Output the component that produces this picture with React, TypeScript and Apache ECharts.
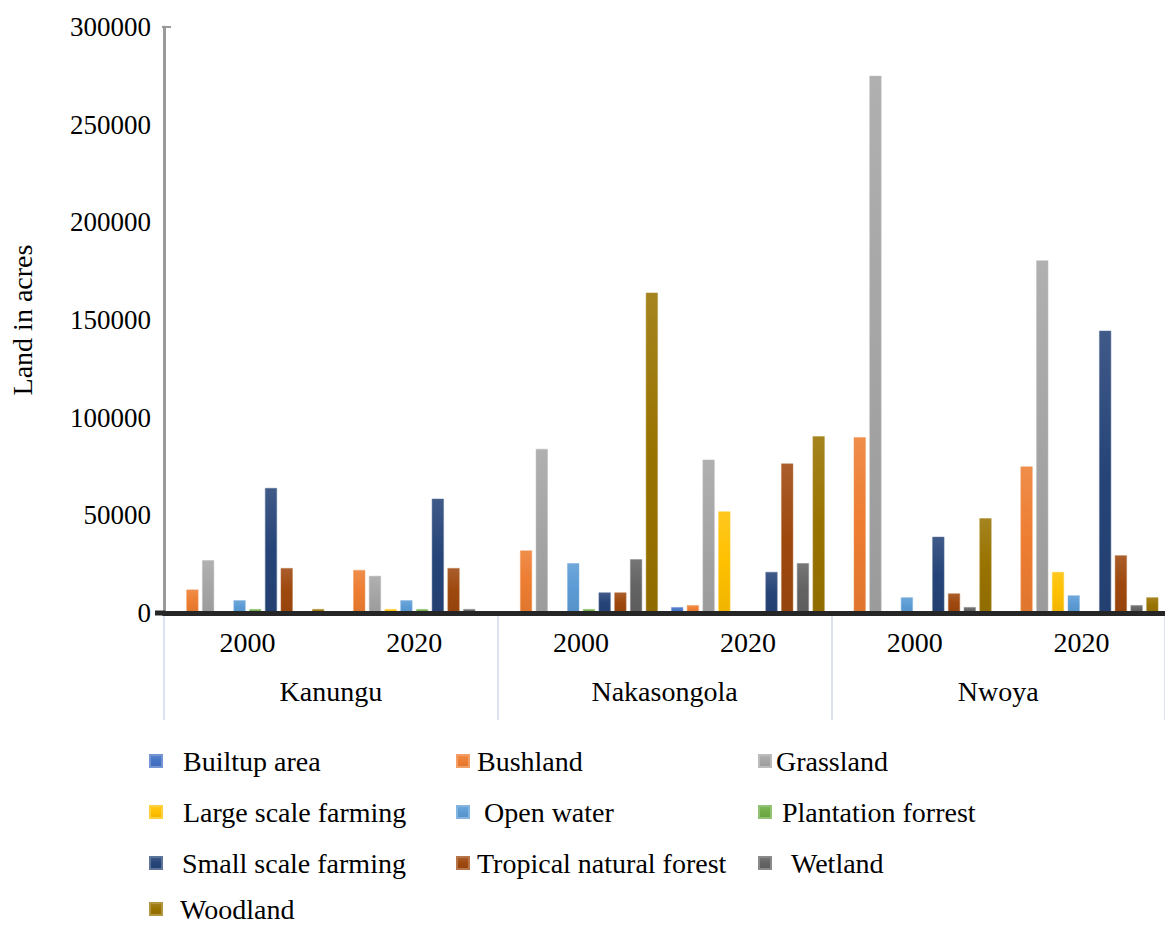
import React, { useEffect, useRef } from "react";
import * as echarts from "echarts";

const districts = ["Kanungu", "Nakasongola", "Nwoya"];
const years = ["2000", "2020"];
const seriesNames = [
  "Builtup area",
  "Bushland",
  "Grassland",
  "Large scale farming",
  "Open water",
  "Plantation forrest",
  "Small scale farming",
  "Tropical natural forest",
  "Wetland",
  "Woodland",
];
// order: Kanungu 2000, Kanungu 2020, Nakasongola 2000, Nakasongola 2020, Nwoya 2000, Nwoya 2020
const builtup = [0, 0, 0, 3000, 0, 0];
const bushland = [12000, 22000, 32000, 4000, 90000, 75000];
const grassland = [27000, 19000, 84000, 78500, 275000, 180500];
const largeScale = [0, 2000, 0, 52000, 0, 21000];
const openWater = [6500, 6500, 25500, 0, 8000, 9000];
const plantation = [2000, 2000, 2000, 0, 0, 0];
const smallScale = [64000, 58500, 10500, 21000, 39000, 144500];
const tropical = [23000, 23000, 10500, 76500, 10000, 29500];
const wetland = [0, 2000, 27500, 25500, 3000, 4000];
const woodland = [2000, 0, 164000, 90500, 48500, 8000];
const yTicks = [0, 50000, 100000, 150000, 200000, 250000, 300000];

const seriesValues = [builtup, bushland, grassland, largeScale, openWater, plantation, smallScale, tropical, wetland, woodland];
const colors = ["#4472C4", "#ED7D31", "#A5A5A5", "#FFC000", "#5B9BD5", "#70AD47", "#264478", "#9E480E", "#636363", "#997300"];

const FONT = "Liberation Serif, Times New Roman, serif";

function shade(hex: string, amt: number) {
  const n = parseInt(hex.slice(1), 16);
  const r = (n >> 16) & 255, g = (n >> 8) & 255, b = n & 255;
  const f = (c: number) => Math.round(amt >= 0 ? c + (255 - c) * amt : c * (1 + amt));
  return `rgb(${f(r)},${f(g)},${f(b)})`;
}

// legend layout: [iconX, textX, rowCenterY]
const legendPos: [number, number, number][] = [
  [149, 182, 760],
  [456, 476, 760],
  [758, 775, 760],
  [149, 182, 811],
  [456, 483, 811],
  [758, 781, 811],
  [149, 181, 862],
  [456, 476, 862],
  [758, 790, 862],
  [149, 179, 908],
];

export default function App() {
  const ref = useRef<HTMLDivElement>(null);
  useEffect(() => {
    if (!ref.current) return;
    const chart = echarts.init(ref.current, undefined, { renderer: "svg" });
    const categories: string[] = [];
    districts.forEach((d) => years.forEach((y) => categories.push(d + "|" + y)));
    const ICON = 12;
    const legends = seriesNames.map((name, i) => {
      const [ix, tx, cy] = legendPos[i];
      return {
        data: [name],
        left: ix,
        top: cy - 13,
        padding: 0,
        icon: "rect",
        itemWidth: ICON,
        itemHeight: ICON,
        selectedMode: false,
        textStyle: {
          fontFamily: FONT,
          fontSize: 28,
          color: "#000",
          lineHeight: 26,
          padding: [0, 0, 0, Math.max(0, tx - (ix + ICON + 5))],
        },
      };
    });
    chart.setOption({
      animation: false,
      backgroundColor: "#fff",
      color: colors,
      textStyle: { fontFamily: FONT },
      legend: legends,
      grid: { left: 163, top: 27, right: -9, bottom: 925 - 613, containLabel: false },
      xAxis: [
        {
          type: "category",
          data: categories,
          z: 5,
          axisLine: { show: true, lineStyle: { color: "#262626", width: 5 } },
          axisTick: { show: false },
          axisLabel: {
            interval: 0,
            margin: 15,
            fontFamily: FONT,
            fontSize: 28,
            color: "#000",
            formatter: (v: string) => v.split("|")[1],
          },
          splitLine: { show: false },
        },
        {
          type: "category",
          data: districts,
          position: "bottom",
          axisLine: { show: false },
          axisTick: { show: true, length: 107, lineStyle: { color: "#dde3ee", width: 2 } },
          axisLabel: { interval: 0, margin: 64, fontFamily: FONT, fontSize: 28, color: "#000" },
          splitLine: { show: false },
        },
      ],
      yAxis: {
        type: "value",
        min: yTicks[0],
        max: yTicks[yTicks.length - 1],
        interval: yTicks[1] - yTicks[0],
        name: "Land in acres",
        nameLocation: "middle",
        nameRotate: 90,
        nameGap: 128,
        nameTextStyle: { fontFamily: FONT, fontSize: 28, color: "#000" },
        axisLine: { show: true, lineStyle: { color: "#9a9a9a", width: 3 } },
        axisTick: { show: false },
        splitLine: { show: false },
        axisLabel: {
          margin: 13,
          fontFamily: FONT,
          fontSize: 27,
          color: "#000",
          formatter: (v: number) => String(v),
        },
      },
      graphic: [
        { type: "line", shape: { x1: 155, y1: 613, x2: 165, y2: 613 }, style: { stroke: "#262626", lineWidth: 5 }, z: 10 },
        { type: "line", shape: { x1: 162, y1: 27, x2: 171, y2: 27 }, style: { stroke: "#9a9a9a", lineWidth: 2 }, z: 10 },
      ],
      series: seriesNames.map((name, i) => ({
        name,
        type: "bar",
        data: seriesValues[i],
        barWidth: 12,
        barGap: "31%",
        itemStyle: {
          color: new echarts.graphic.LinearGradient(0, 0, 0, 1, [
            { offset: 0, color: shade(colors[i], 0.12) },
            { offset: 0.5, color: colors[i] },
            { offset: 1, color: shade(colors[i], -0.06) },
          ]),
          borderColor: shade(colors[i], 0.25),
          borderWidth: 0.5,
        },
      })),
    });
    return () => chart.dispose();
  }, []);
  return (
    <div
      ref={ref}
      style={{ position: "absolute", left: 0, top: 0, width: 1165, height: 925, background: "#fff" }}
    />
  );
}
